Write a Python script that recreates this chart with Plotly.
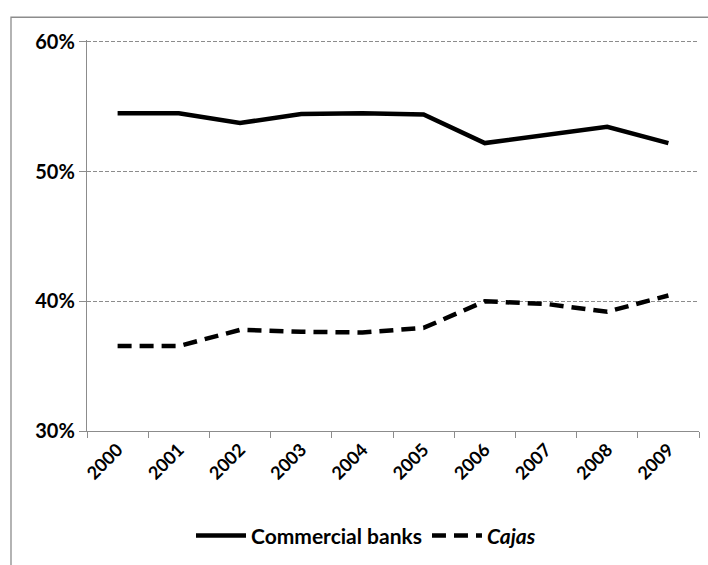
import plotly.graph_objects as go

years = ["2000", "2001", "2002", "2003", "2004", "2005", "2006", "2007", "2008", "2009"]
commercial_banks = [54.5, 54.5, 53.75, 54.45, 54.5, 54.4, 52.2, 52.8, 53.45, 52.2]
cajas = [36.55, 36.55, 37.8, 37.65, 37.6, 37.95, 40.0, 39.8, 39.2, 40.45]
y_ticks = [30, 40, 50, 60]
y_tick_labels = ["30%", "40%", "50%", "60%"]

W, H = 708, 565
L, R, T, B = 87, 9, 40, 130
pw, ph = W - L - R, H - T - B

fig = go.Figure()
fig.add_trace(go.Scatter(
    x=years, y=commercial_banks, mode="lines", name="Commercial banks",
    line=dict(color="black", width=4.5),
))
fig.add_trace(go.Scatter(
    x=years, y=cajas, mode="lines", name="<i>Cajas</i>",
    line=dict(color="black", width=4.5, dash="14px,8px"),
))

def px_to_paper_x(px):
    return (px - L) / pw

def px_to_paper_y(py):
    return (H - B - py) / ph

fig.add_shape(type="rect", xref="paper", yref="paper",
              x0=px_to_paper_x(11), x1=px_to_paper_x(720),
              y0=px_to_paper_y(580), y1=px_to_paper_y(17),
              line=dict(color="#8c8c8c", width=1.3), fillcolor="rgba(0,0,0,0)", layer="below")

fig.update_layout(
    width=W, height=H,
    margin=dict(l=L, r=R, t=T, b=B),
    paper_bgcolor="white", plot_bgcolor="white",
    font=dict(family="Lato, 'Open Sans', sans-serif", color="black"),
    showlegend=True,
    legend=dict(orientation="h", x=px_to_paper_x(366), xanchor="center",
                y=px_to_paper_y(541), yanchor="middle",
                font=dict(size=21, family="Lato", weight="bold"),
                itemwidth=50, tracegroupgap=0),
    xaxis=dict(
        type="category", range=[-0.5, 9.5],
        showline=True, linecolor="#8c8c8c", linewidth=1.3,
        ticks="outside", tickson="boundaries", ticklen=6, tickcolor="#8c8c8c",
        tickangle=-45, tickfont=dict(size=18, family="Lato", weight="bold"),
        showgrid=False, zeroline=False, fixedrange=True,
    ),
    yaxis=dict(
        range=[30, 60.15], tickvals=y_ticks, ticktext=y_tick_labels,
        showline=True, linecolor="#8c8c8c", linewidth=1.3,
        ticks="outside", ticklen=7, tickcolor="#8c8c8c",
        tickfont=dict(size=20, family="Lato", weight="bold"),
        showgrid=True, gridcolor="#8c8c8c", griddash="4px,2px", gridwidth=1,
        zeroline=False, fixedrange=True,
    ),
)

fig.write_html("out.html")
